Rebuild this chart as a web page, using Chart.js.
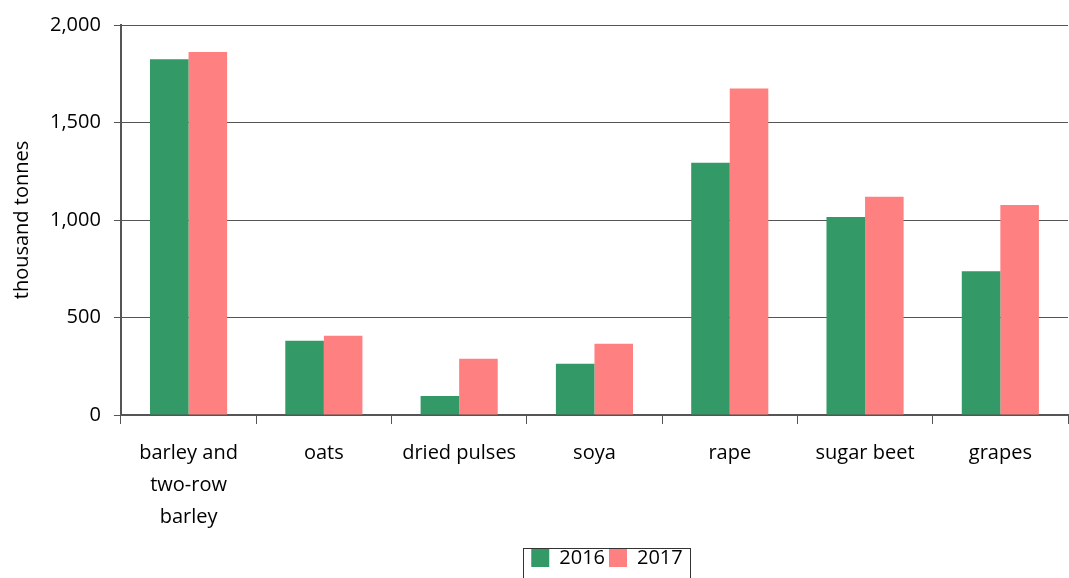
<!DOCTYPE html>
<html>
<head>
<meta charset="utf-8">
<script src="https://cdn.jsdelivr.net/npm/chart.js@4"></script>
<style>
  html, body { margin: 0; padding: 0; background: #fff; }
  #wrap { width: 1069px; height: 578px; }
</style>
</head>
<body>
<div id="wrap"><canvas id="myChart"></canvas></div>
<script>
const categories = [['barley and', 'two-row', 'barley'], 'oats', 'dried pulses', 'soya', 'rape', 'sugar beet', 'grapes'];
const values2016 = [1825, 381, 98, 263, 1294, 1015, 737];
const values2017 = [1861, 407, 289, 366, 1675, 1119, 1077];
const yTicks = [0, 500, 1000, 1500, 2000];

// legend sits right of centre in the original, with a thin frame round it
const legendBox = {
  id: 'legendBox',
  afterLayout(chart) {
    const lg = chart.legend;
    lg.left += 68;
    lg.right += 68;
    lg.top -= 2;
    lg.bottom -= 2;
  },
  afterDraw(chart) {
    const lg = chart.legend;
    const c = chart.ctx;
    const hb = lg.legendHitBoxes;
    const x0 = hb[0].left - 8;
    const x1 = hb[hb.length - 1].left + hb[hb.length - 1].width + 8;
    c.save();
    c.strokeStyle = '#333';
    c.lineWidth = 1;
    c.strokeRect(Math.round(x0) + 0.5, 548.5, Math.round(x1 - x0), 40);
    c.restore();
  }
};

const ctx = document.getElementById('myChart');
var myChart = new Chart(ctx, {
  type: 'bar',
  data: {
    labels: categories,
    datasets: [{
      label: '2016',
      data: values2016,
      backgroundColor: '#339966',
      categoryPercentage: 0.57,
      barPercentage: 1
    }, {
      label: '2017',
      data: values2017,
      backgroundColor: '#ff8080',
      categoryPercentage: 0.57,
      barPercentage: 1
    }]
  },
  options: {
    responsive: true,
    maintainAspectRatio: false,
    animation: false,
    layout: { padding: { top: 20, right: 1, left: 10, bottom: -2 } },
    plugins: {
      tooltip: { enabled: false },
      legend: {
        position: 'bottom',
        labels: {
          color: '#000',
          font: { family: 'Open Sans', size: 20 },
          boxWidth: 18,
          boxHeight: 18,
          padding: 4
        }
      }
    },
    scales: {
      x: {
        grid: { offset: true, drawOnChartArea: false, color: '#555', tickLength: 9 },
        border: { color: '#555', width: 2 },
        ticks: {
          color: '#000',
          font: { family: 'Open Sans', size: 20, lineHeight: 1.6 },
          maxRotation: 0,
          padding: 13
        }
      },
      y: {
        min: 0,
        max: 2000,
        afterBuildTicks: (axis) => { axis.ticks = yTicks.map(v => ({ value: v })); },
        grid: { color: '#555', tickLength: 7 },
        border: { color: '#555', width: 2 },
        ticks: {
          color: '#000',
          font: { family: 'Open Sans', size: 20 },
          padding: 13,
          callback: (v) => v.toLocaleString('en-US')
        },
        title: {
          display: true,
          text: 'thousand tonnes',
          color: '#000',
          font: { family: 'Open Sans', size: 20 },
          padding: { top: 0, bottom: 3 }
        }
      }
    }
  },
  plugins: [legendBox]
});
</script>
</body>
</html>
